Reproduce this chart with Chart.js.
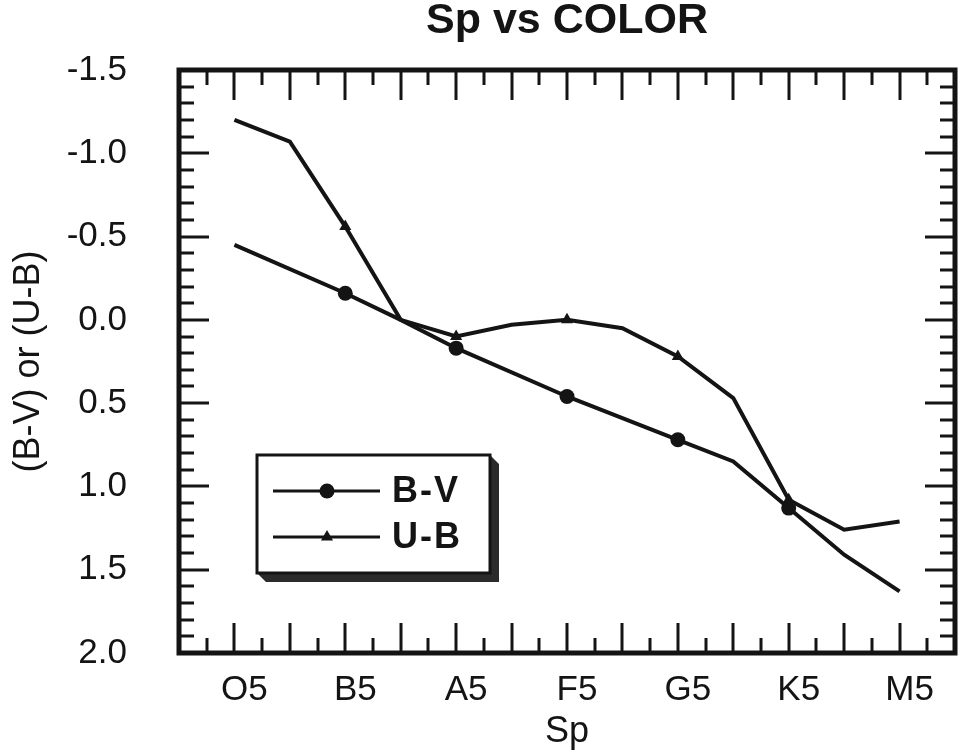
<!DOCTYPE html>
<html>
<head>
<meta charset="utf-8">
<title>Sp vs COLOR</title>
<script src="https://cdn.jsdelivr.net/npm/chart.js@4.4.1/dist/chart.umd.min.js"></script>
<style>
  html, body { margin: 0; padding: 0; background: #fff; }
  #wrap { width: 960px; height: 754px; }
</style>
</head>
<body>
<div id="wrap"><canvas id="spChart"></canvas></div>
<script>
// spectral type as a number: O5 = 0, one unit per subclass
const spLabels = ['O5', 'B5', 'A5', 'F5', 'G5', 'K5', 'M5'];
const spTicks = [0, 10, 20, 30, 40, 50, 60];
const yTicks = [-1.5, -1.0, -0.5, 0.0, 0.5, 1.0, 1.5, 2.0];

// B-V
const bvSp = [0, 10, 15, 20, 30, 40, 45, 50, 55, 60];
const bvColor = [-0.45, -0.16, 0.0, 0.17, 0.46, 0.72, 0.85, 1.13, 1.41, 1.63];
const bvMarked = [false, true, false, true, true, true, false, true, false, false];

// U-B
const ubSp = [0, 5, 10, 15, 20, 25, 30, 35, 40, 45, 50, 55, 60];
const ubColor = [-1.2, -1.07, -0.56, 0.0, 0.10, 0.03, 0.0, 0.05, 0.22, 0.47, 1.08, 1.26, 1.21];
const ubMarked = [false, false, true, false, true, false, true, false, true, false, true, false, false];

const ink = '#141414';
const family = "'Liberation Sans', Arial, Helvetica, sans-serif";

// border plus inward ticks on all four sides
const frame = {
    id: 'frame',
    beforeDatasetsDraw(chart) {
        const { ctx, chartArea: a, scales: { x, y } } = chart;
        ctx.save();
        ctx.strokeStyle = ink;
        ctx.lineWidth = 3;
        ctx.beginPath();
        for (let v = x.min; v <= x.max; v += 2.5) {
            const px = Math.round(x.getPixelForValue(v));
            const len = v % 5 === 0 ? 30 : 15;
            ctx.moveTo(px, a.top); ctx.lineTo(px, a.top + len);
            ctx.moveTo(px, a.bottom); ctx.lineTo(px, a.bottom - len);
        }
        for (let i = 0; i <= 35; i++) {
            const py = Math.round(y.getPixelForValue(y.min + i * 0.1));
            const len = i % 5 === 0 ? 30 : 15;
            ctx.moveTo(a.left, py); ctx.lineTo(a.left + len, py);
            ctx.moveTo(a.right, py); ctx.lineTo(a.right - len, py);
        }
        ctx.stroke();
        ctx.lineWidth = 5;
        ctx.strokeRect(a.left, a.top, a.width, a.height);
        ctx.restore();
    }
};

// boxed legend with a drop shadow, inside the plot
const boxLegend = {
    id: 'boxLegend',
    afterDatasetsDraw(chart) {
        const ctx = chart.ctx;
        const bx = 257, by = 455, bw = 233, bh = 118, sh = 9;
        ctx.save();
        ctx.fillStyle = '#2b2b2b';
        ctx.beginPath();
        ctx.moveTo(bx + bw, by);
        ctx.lineTo(bx + bw + sh, by + sh);
        ctx.lineTo(bx + bw + sh, by + bh + sh);
        ctx.lineTo(bx + sh, by + bh + sh);
        ctx.lineTo(bx, by + bh);
        ctx.lineTo(bx + bw, by + bh);
        ctx.closePath();
        ctx.fill();
        ctx.fillStyle = '#fff';
        ctx.fillRect(bx, by, bw, bh);
        ctx.lineWidth = 3;
        ctx.strokeStyle = ink;
        ctx.strokeRect(bx, by, bw, bh);

        chart.data.datasets.forEach((ds, i) => {
            const ly = by + 36 + i * 46;
            const mx = bx + 70;
            ctx.strokeStyle = ink;
            ctx.lineWidth = 3;
            ctx.beginPath();
            ctx.moveTo(bx + 16, ly);
            ctx.lineTo(bx + 123, ly);
            ctx.stroke();
            ctx.fillStyle = ink;
            ctx.beginPath();
            if (ds.pointStyle === 'triangle') {
                const r = 7;
                ctx.moveTo(mx, ly - r);
                ctx.lineTo(mx + r * 0.866, ly + r * 0.5);
                ctx.lineTo(mx - r * 0.866, ly + r * 0.5);
                ctx.closePath();
            } else {
                ctx.arc(mx, ly, 7.5, 0, Math.PI * 2);
            }
            ctx.fill();
            ctx.font = 'bold 36px ' + family;
            ctx.letterSpacing = '2px';
            ctx.textBaseline = 'middle';
            ctx.fillText(ds.label, bx + 135, ly + 1);
        });
        ctx.restore();
    }
};

const tickFont = { family: family, size: 35 };
const titleFont = { family: family, size: 36 };

new Chart(document.getElementById('spChart'), {
    type: 'line',
    data: {
        datasets: [
            {
                label: 'B-V',
                data: bvSp.map((s, i) => ({ x: s, y: bvColor[i] })),
                borderColor: ink,
                backgroundColor: ink,
                borderWidth: 4,
                pointStyle: 'circle',
                pointRadius: bvMarked.map(m => (m ? 7.5 : 0)),
                pointBorderWidth: 0,
                tension: 0,
            },
            {
                label: 'U-B',
                data: ubSp.map((s, i) => ({ x: s, y: ubColor[i] })),
                borderColor: ink,
                backgroundColor: ink,
                borderWidth: 4,
                pointStyle: 'triangle',
                pointRadius: ubMarked.map(m => (m ? 7 : 0)),
                pointBorderWidth: 0,
                tension: 0,
            },
        ],
    },
    options: {
        responsive: true,
        maintainAspectRatio: false,
        animation: false,
        layout: { padding: { top: 0, right: 5, left: 0, bottom: 0 } },
        plugins: {
            legend: { display: false },
            tooltip: { enabled: false },
            title: {
                display: true,
                text: 'Sp vs COLOR',
                fullSize: false,
                color: ink,
                font: { family: family, size: 43, weight: 'bold', lineHeight: 1 },
                padding: { top: 0, bottom: 27 },
            },
        },
        scales: {
            x: {
                type: 'linear',
                min: -5,
                max: 65,
                grid: { display: false },
                border: { display: false },
                afterBuildTicks: s => { s.ticks = spTicks.map(v => ({ value: v })); },
                afterFit: s => { s.height = 101; },
                ticks: {
                    callback: v => spLabels[spTicks.indexOf(v)] ?? '',
                    labelOffset: 10,
                    padding: 8,
                    autoSkip: false,
                    maxRotation: 0,
                    color: ink,
                    font: tickFont,
                },
                title: {
                    display: true,
                    text: 'Sp',
                    color: ink,
                    font: titleFont,
                    padding: { top: 0, bottom: 0 },
                },
            },
            y: {
                type: 'linear',
                reverse: true,
                min: -1.5,
                max: 2.0,
                grid: { display: false },
                border: { display: false },
                afterBuildTicks: s => { s.ticks = yTicks.map(v => ({ value: v })); },
                afterFit: s => { s.width = 179; },
                ticks: {
                    callback: v => v.toFixed(1),
                    padding: 44,
                    color: ink,
                    font: tickFont,
                },
                title: {
                    display: true,
                    text: '(B-V) or (U-B)',
                    color: ink,
                    font: titleFont,
                    padding: { top: 7, bottom: 0 },
                },
            },
        },
    },
    plugins: [frame, boxLegend],
});
</script>
</body>
</html>
